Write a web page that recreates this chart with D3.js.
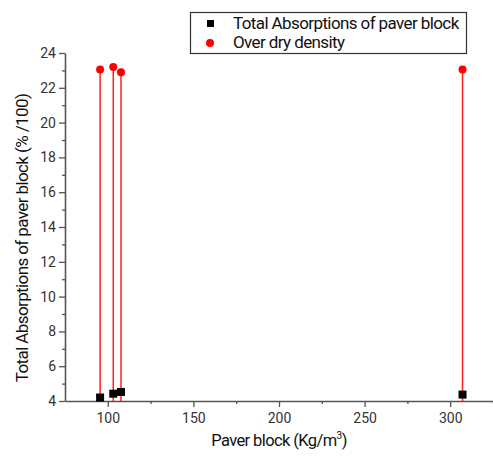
<!DOCTYPE html>
<html>
<head>
<meta charset="utf-8">
<script src="https://cdn.jsdelivr.net/npm/d3@7/dist/d3.min.js"></script>
<style>
  body { margin: 0; background: #fff; }
  svg text { font-family: Roboto, "Liberation Sans", sans-serif; }
</style>
</head>
<body>
<div id="chart"></div>
<script>
// Paver block density (x) for each sample
const density = [95.5, 103.2, 107.7, 307.2];
// Total absorptions of paver block (%/100)
const absorption = [4.2, 4.42, 4.52, 4.37];
// Over dry density
const dryDensity = [23.05, 23.2, 22.9, 23.05];

const xTicks = [100, 150, 200, 250, 300];
const xMinor = [125, 175, 225, 275, 325];
const yTicks = [4, 6, 8, 10, 12, 14, 16, 18, 20, 22, 24];
const yMinor = [5, 7, 9, 11, 13, 15, 17, 19, 21, 23];

const seriesNames = ['Total Absorptions of paver block', 'Over dry density'];

const width = 493, height = 456;
const margin = { top: 53, right: 0, bottom: 55, left: 65 };

const svg = d3.select('#chart')
    .append('svg')
    .attr('width', width)
    .attr('height', height);

const x = d3.scaleLinear()
    .domain([75, 325])
    .range([margin.left, width - margin.right]);

const y = d3.scaleLinear()
    .domain([4, 24])
    .range([height - margin.bottom, margin.top]);

const axisColor = '#555';
const labelColor = '#333';

// Minor ticks first so the major axis draws over them
svg.append('g')
    .attr('transform', `translate(0,${y(4)})`)
    .call(d3.axisBottom(x).tickValues(xMinor).tickSize(3).tickFormat(''))
    .call(g => g.select('.domain').remove())
    .call(g => g.selectAll('line').attr('stroke', axisColor).attr('stroke-width', 1.3));

svg.append('g')
    .attr('transform', `translate(${x(75)},0)`)
    .call(d3.axisLeft(y).tickValues(yMinor).tickSize(3).tickFormat(''))
    .call(g => g.select('.domain').remove())
    .call(g => g.selectAll('line').attr('stroke', axisColor).attr('stroke-width', 1.3));

// Major axes
const xAxis = svg.append('g')
    .attr('transform', `translate(0,${y(4)})`)
    .call(d3.axisBottom(x).tickValues(xTicks).tickSize(6).tickSizeOuter(0).tickPadding(6));

const yAxis = svg.append('g')
    .attr('transform', `translate(${x(75)},0)`)
    .call(d3.axisLeft(y).tickValues(yTicks).tickSize(6).tickSizeOuter(0).tickPadding(3));

[xAxis, yAxis].forEach(g => {
    g.select('.domain').attr('stroke', axisColor).attr('stroke-width', 1.6);
    g.selectAll('.tick line').attr('stroke', axisColor).attr('stroke-width', 1.3);
    g.selectAll('.tick text')
        .attr('fill', labelColor)
        .style('font-size', '14px')
        .style('font-family', 'Roboto, sans-serif');
});

// Stems for dry density series
svg.append('g')
    .selectAll('line')
    .data(density)
    .join('line')
    .attr('x1', d => x(d))
    .attr('x2', d => x(d))
    .attr('y1', y(4))
    .attr('y2', (d, i) => y(dryDensity[i]))
    .attr('stroke', '#ff2020')
    .attr('stroke-width', 1.5);

// Black squares
const sq = 8;
svg.append('g')
    .selectAll('rect')
    .data(density)
    .join('rect')
    .attr('x', d => x(d) - sq / 2)
    .attr('y', (d, i) => y(absorption[i]) - sq / 2)
    .attr('width', sq)
    .attr('height', sq)
    .attr('fill', '#000');

// Red dots
svg.append('g')
    .selectAll('circle')
    .data(density)
    .join('circle')
    .attr('cx', d => x(d))
    .attr('cy', (d, i) => y(dryDensity[i]))
    .attr('r', 4)
    .attr('fill', '#ff0000');

// Axis titles
svg.append('text')
    .attr('x', 279)
    .attr('y', 446)
    .attr('text-anchor', 'middle')
    .style('font-size', '16.5px')
    .style('letter-spacing', '-0.6px')
    .attr('fill', '#111')
    .html('Paver block (Kg/m<tspan dy="-7" font-size="10">3</tspan><tspan dy="7">)</tspan>');

svg.append('text')
    .attr('transform', 'translate(28,238) rotate(-90)')
    .attr('text-anchor', 'middle')
    .style('font-size', '17px')
    .style('letter-spacing', '-0.6px')
    .attr('fill', '#111')
    .text('Total Absorptions of paver block (% /100)');

// Legend
const legend = svg.append('g');
legend.append('rect')
    .attr('x', 190.5)
    .attr('y', 12.5)
    .attr('width', 276)
    .attr('height', 41)
    .attr('fill', '#fff')
    .attr('stroke', '#333')
    .attr('stroke-width', 1.2);

legend.append('rect')
    .attr('x', 207)
    .attr('y', 20)
    .attr('width', 7)
    .attr('height', 7)
    .attr('fill', '#000');
legend.append('circle')
    .attr('cx', 210)
    .attr('cy', 43)
    .attr('r', 4)
    .attr('fill', '#ff0000');

legend.selectAll('text')
    .data(seriesNames)
    .join('text')
    .attr('x', 233)
    .attr('y', (d, i) => 29 + i * 19)
    .style('font-size', '17px')
    .style('letter-spacing', '-0.6px')
    .attr('fill', '#111')
    .text(d => d);
</script>
</body>
</html>
